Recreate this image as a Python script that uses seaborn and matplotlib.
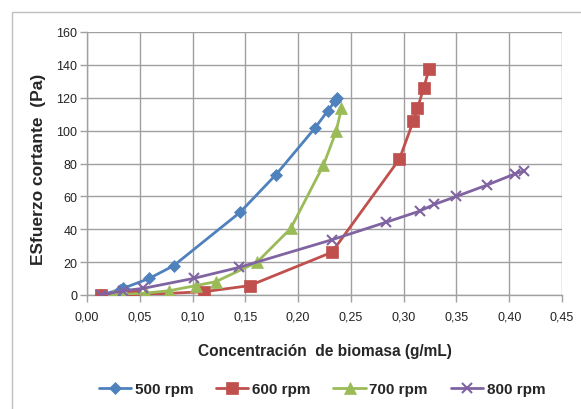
# Esfuerzo cortante vs concentracion de biomasa (4 velocidades de agitacion)
import numpy as np
import pandas as pd
import matplotlib
matplotlib.use("Agg")
import matplotlib.pyplot as plt
import seaborn as sns
from matplotlib.ticker import FuncFormatter, MultipleLocator
from matplotlib.patches import Rectangle

# -------------------------------------
# Data
# -------------------------------------
conc_500 = [0.013, 0.031, 0.034, 0.059, 0.082, 0.145, 0.179, 0.216, 0.228, 0.235, 0.237]
tau_500 = [0.0, 3.2, 4.0, 10.1, 17.8, 50.3, 73.2, 101.6, 112.0, 118.0, 119.6]

conc_600 = [0.013, 0.044, 0.111, 0.154, 0.232, 0.296, 0.309, 0.313, 0.319, 0.324]
tau_600 = [0.0, 0.0, 2.0, 5.7, 26.0, 82.7, 105.6, 113.5, 125.9, 137.5]

conc_700 = [0.025, 0.035, 0.056, 0.078, 0.103, 0.122, 0.161, 0.193, 0.224, 0.236, 0.241]
tau_700 = [0.0, 0.3, 1.2, 2.6, 5.7, 8.1, 19.9, 40.5, 79.0, 99.5, 113.5]

conc_800 = [0.013, 0.034, 0.053, 0.101, 0.144, 0.232, 0.283, 0.315, 0.329, 0.350, 0.379, 0.405, 0.414]
tau_800 = [0.0, 2.6, 4.0, 10.1, 16.8, 33.6, 44.2, 51.0, 55.1, 60.0, 66.9, 73.6, 75.6]

labels = ["500 rpm", "600 rpm", "700 rpm", "800 rpm"]
colors = ["#4F81BD", "#C0504D", "#9BBB59", "#8064A2"]
markers = ["D", "s", "^", "x"]
msizes = [6.5, 8, 9, 7.5]

series = [(conc_500, tau_500), (conc_600, tau_600),
          (conc_700, tau_700), (conc_800, tau_800)]

# -------------------------------------
# Figure
# -------------------------------------
sns.set_style("white")
plt.rcParams["font.family"] = ["Liberation Sans", "DejaVu Sans"]

fig = plt.figure(figsize=(5.81, 4.10), dpi=100)
ax = fig.add_axes([87 / 581, 1 - 296 / 410, (562 - 87) / 581, (296 - 33) / 410])

# chart area border
fig.patches.append(Rectangle((12 / 581, -0.05), 1.0, 1 - 13 / 410 + 0.05,
                             transform=fig.transFigure, fill=False,
                             edgecolor="#BFBFBF", linewidth=1.0))

for (x, y), lab, col, mk, ms in zip(series, labels, colors, markers, msizes):
    df = pd.DataFrame({"conc": x, "tau": y})
    sns.lineplot(data=df, x="conc", y="tau", ax=ax, sort=False, estimator=None,
                 color=col, marker=mk, markersize=ms, linewidth=2.0,
                 markeredgecolor=col, markeredgewidth=1.5 if mk == "x" else 0.5,
                 label=lab, legend=False, zorder=3)

ax.set_xlim(0, 0.45)
ax.set_ylim(0, 160)
ax.xaxis.set_major_locator(MultipleLocator(0.05))
ax.yaxis.set_major_locator(MultipleLocator(20))
ax.xaxis.set_major_formatter(FuncFormatter(lambda v, p: f"{v:.2f}".replace(".", ",")))
ax.yaxis.set_major_formatter(FuncFormatter(lambda v, p: f"{v:.0f}"))

ax.grid(True, color="#A0A0A0", linewidth=1.0)
ax.set_axisbelow(True)
for s in ["top", "right"]:
    ax.spines[s].set_visible(False)
for s in ["left", "bottom"]:
    ax.spines[s].set_color("#A0A0A0")
    ax.spines[s].set_linewidth(1.0)

ax.tick_params(axis="both", which="major", labelsize=9, length=5, width=1,
               color="#A0A0A0", direction="out", labelcolor="#222222",
               bottom=True, left=True)
ax.tick_params(axis="x", pad=6)
ax.tick_params(axis="y", pad=2)

ax.set_xlabel("Concentración  de biomasa (g/mL)", fontsize=11.2, fontweight="bold",
              va="center")
ax.xaxis.set_label_coords(0.5, (296 - 352) / 263)
ax.set_ylabel("ESfuerzo cortante  (Pa)", fontsize=12.5, fontweight="bold",
              va="center")
ax.yaxis.set_label_coords((39 - 87) / 475, (296 - 169.5) / 263)

handles, labs = ax.get_legend_handles_labels()
fig.legend(handles, labs, loc="center", bbox_to_anchor=(322 / 581, 1 - 390 / 410),
           ncol=4, frameon=False, prop={"weight": "bold", "size": 11},
           handlelength=2.1, columnspacing=1.5, handletextpad=0.25)

fig.savefig("out.png", dpi=100)
